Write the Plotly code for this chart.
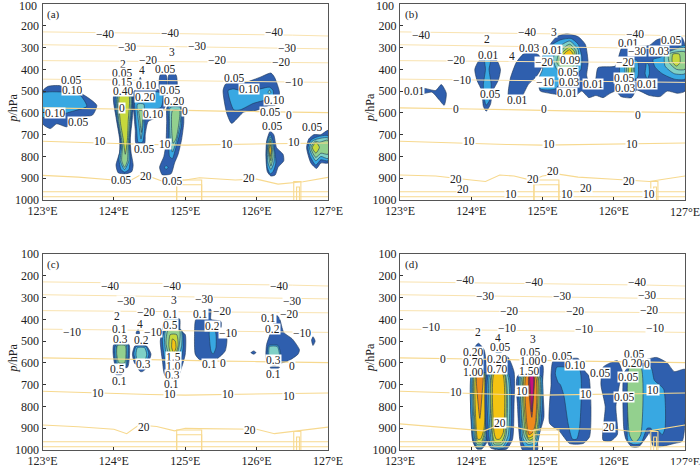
import plotly.graph_objects as go

# fill colours of the contour levels, weakest first
LEVEL_COLORS = ["#2f5fae", "#38a8e2", "#7fd0c6", "#93d08e", "#c6d93c", "#f3c313", "#ee8a1c", "#dc3a1e", "#c8107e"]

# temperature lines, same in all panels
ISO_LON = [123, 123.5, 124, 124.5, 125, 125.5, 126, 126.5, 127]
T_M40 = [228, 230, 232, 234, 235, 237, 240, 243, 247]
T_M30 = [287, 289, 291, 294, 296, 298, 300, 303, 306]
T_M20 = [360, 361, 362, 363, 364, 365, 366, 368, 370]
T_M10 = [445, 447, 449, 450, 451, 453, 455, 457, 460]
T_0 = [577, 578, 582, 585, 590, 592, 594, 596, 599]
T_10 = [730, 735, 742, 745, 748, 745, 742, 740, 738]
LOW_1 = [962, 962, 962, 962, 962, 962, 962, 962, 962]
LOW_2 = [985, 985, 985, 985, 985, 985, 985, 985, 985]

# the 20 degree line differs a bit per panel
A_T20 = [(123, 887), (123.5, 895), (124, 908), (124.2, 916), (124.4, 880), (124.7, 916), (125, 908), (125.2, 898), (125.7, 908), (126, 904), (126.3, 927), (126.5, 920), (126.65, 916), (127, 896)]
B_T20 = [(123, 885), (123.5, 890), (124, 908), (124.2, 915), (124.4, 885), (124.6, 890), (124.85, 910), (125, 890), (125.2, 880), (125.5, 895), (126, 905), (126.5, 915), (126.7, 905), (127, 890)]
C_T20 = [(123, 885), (123.5, 893), (124, 905), (124.18, 925), (124.35, 885), (124.6, 892), (124.85, 912), (125, 900), (125.2, 902), (125.6, 905), (126, 905), (126.25, 925), (126.5, 915), (127, 895)]
D_T20 = [(123, 880), (123.5, 893), (124, 905), (124.18, 912), (124.35, 890), (124.6, 895), (124.85, 912), (125, 900), (125.2, 902), (125.6, 905), (126, 905), (126.25, 915), (126.5, 912), (127, 885)]

# terrain outlines (lon, p)
TERRAIN_1 = [(124.88, 1000), (124.88, 930), (125.23, 930), (125.23, 1000)]
TERRAIN_2 = [(124.88, 1000), (124.88, 908), (125.23, 908), (125.23, 1000)]
TERRAIN_3 = [(126.52, 1000), (126.52, 915), (126.62, 915), (126.62, 1000)]
TERRAIN_4 = [(126.56, 1000), (126.56, 940), (126.6, 940), (126.6, 1000)]

# filled contour regions: (level index, outline in lon / hPa)
A_FILLS = [
    (0, [(123, 500), (123.08, 478), (123.25, 475), (123.55, 512), (123.76, 565), (123.7, 610), (123.53, 620), (123.34, 664), (123.2, 650), (123.11, 672), (123, 650)]),
    (1, [(123, 510), (123.3, 505), (123.53, 520), (123.62, 570), (123.45, 590), (123, 620)]),
    (0, [(124, 520), (124.27, 520), (124.26, 620), (124.23, 720), (124.24, 780), (124.27, 840), (124.25, 870), (124.16, 880), (124.06, 875), (124.03, 840), (124.08, 780), (124.08, 720), (124.03, 620)]),
    (1, [(124.03, 520), (124.25, 520), (124.24, 640), (124.22, 740), (124.23, 810), (124.21, 860), (124.15, 872), (124.1, 860), (124.07, 810), (124.1, 740), (124.05, 640)]),
    (2, [(124.05, 520), (124.24, 520), (124.23, 640), (124.21, 750), (124.21, 820), (124.15, 860), (124.09, 820), (124.11, 750), (124.06, 640)]),
    (3, [(124.06, 520), (124.23, 520), (124.22, 640), (124.2, 750), (124.19, 820), (124.15, 850), (124.11, 820), (124.12, 750), (124.07, 640)]),
    (4, [(124.08, 520), (124.21, 520), (124.2, 640), (124.19, 720), (124.16, 790), (124.13, 720), (124.09, 640)]),
    (0, [(124.28, 500), (124.7, 500), (124.72, 570), (124.6, 620), (124.48, 640), (124.44, 700), (124.43, 740), (124.31, 740), (124.3, 680), (124.28, 600)]),
    (1, [(124.3, 510), (124.68, 510), (124.66, 575), (124.45, 590), (124.43, 680), (124.4, 735), (124.34, 735), (124.32, 680), (124.3, 600)]),
    (2, [(124.33, 560), (124.42, 560), (124.41, 650), (124.38, 720), (124.35, 650)]),
    (3, [(124.35, 590), (124.4, 590), (124.385, 690), (124.36, 620)]),
    (0, [(124.35, 460), (124.37, 437), (124.39, 460)]),
    (0, [(124.64, 490), (124.65, 425), (124.73, 425), (124.74, 490)]),
    (0, [(124.77, 490), (124.77, 425), (124.87, 425), (124.88, 490)]),
    (0, [(124.75, 570), (124.96, 570), (124.98, 640), (124.95, 720), (124.9, 790), (124.85, 830), (124.8, 880), (124.68, 885), (124.64, 850), (124.7, 800), (124.73, 740), (124.74, 640)]),
    (1, [(124.77, 570), (124.93, 570), (124.95, 650), (124.92, 700), (124.86, 770), (124.82, 810), (124.78, 800), (124.77, 740), (124.77, 640)]),
    (1, [(124.71, 850), (124.73, 842), (124.76, 850), (124.73, 860)]),
    (2, [(124.79, 575), (124.93, 575), (124.93, 650), (124.88, 725), (124.82, 780), (124.79, 720), (124.78, 640)]),
    (3, [(124.82, 590), (124.92, 590), (124.91, 650), (124.87, 720), (124.83, 740), (124.81, 680)]),
    (0, [(125.53, 497), (125.57, 466), (125.85, 459), (126.05, 436), (126.2, 417), (126.25, 436), (126.32, 505), (126.3, 543), (126, 588), (125.82, 596), (125.65, 648), (125.58, 600)]),
    (1, [(125.6, 497), (125.68, 490), (125.85, 505), (126.18, 482), (126.23, 497), (126.23, 527), (125.95, 557), (125.77, 586), (125.68, 586)]),
    (2, [(126.16, 505), (126.18, 495), (126.2, 505), (126.18, 513)]),
    (0, [(126.12, 558), (126.26, 558), (126.26, 565), (126.12, 565)]),
    (0, [(126.19, 684), (126.24, 700), (126.28, 760), (126.37, 790), (126.38, 820), (126.3, 850), (126.26, 885), (126.2, 890), (126.15, 870), (126.13, 800), (126.14, 730)]),
    (1, [(126.19, 700), (126.23, 730), (126.26, 790), (126.27, 830), (126.23, 870), (126.19, 880), (126.15, 850), (126.14, 790), (126.15, 730)]),
    (2, [(126.19, 710), (126.22, 740), (126.25, 790), (126.24, 830), (126.2, 860), (126.16, 830), (126.15, 780), (126.16, 740)]),
    (3, [(126.19, 720), (126.22, 760), (126.23, 800), (126.2, 845), (126.17, 800), (126.16, 760)]),
    (4, [(126.19, 730), (126.21, 770), (126.2, 820), (126.18, 790), (126.17, 760)]),
    (5, [(126.19, 745), (126.205, 770), (126.19, 800), (126.175, 770)]),
    (0, [(126.7, 760), (126.73, 720), (126.8, 700), (126.9, 700), (127, 680), (127, 830), (126.9, 830), (126.84, 855), (126.76, 830)]),
    (1, [(126.72, 760), (126.76, 725), (126.85, 710), (127, 705), (127, 820), (126.9, 815), (126.83, 840), (126.75, 800)]),
    (2, [(126.74, 760), (126.78, 730), (126.85, 720), (127, 715), (127, 810), (126.9, 800), (126.83, 820), (126.77, 790)]),
    (3, [(126.76, 758), (126.82, 730), (126.88, 735), (127, 725), (127, 790), (126.9, 785), (126.83, 805), (126.78, 780)]),
    (4, [(126.78, 760), (126.83, 735), (126.88, 758), (126.83, 785)]),
]
B_FILLS = [
    (0, [(123.33, 488), (123.5, 497), (123.58, 470), (123.65, 510), (123.62, 565), (123.55, 540), (123.45, 505), (123.33, 510)]),
    (0, [(124.12, 356), (124.35, 356), (124.41, 400), (124.38, 450), (124.3, 500), (124.27, 560), (124.21, 592), (124.17, 570), (124.15, 500), (124.08, 450), (124.05, 400)]),
    (1, [(124.19, 356), (124.27, 356), (124.25, 400), (124.28, 470), (124.26, 540), (124.21, 565), (124.18, 530), (124.17, 470), (124.2, 400)]),
    (0, [(124.52, 500), (124.55, 440), (124.63, 370), (124.73, 330), (124.85, 320), (124.95, 335), (125, 380), (124.92, 430), (124.8, 470), (124.7, 530), (124.58, 545), (124.52, 530)]),
    (0, [(124.95, 480), (125, 420), (125.05, 350), (125.08, 300), (125.2, 250), (125.34, 237), (125.5, 250), (125.6, 285), (125.64, 370), (125.62, 430), (125.66, 460), (125.74, 450), (125.78, 392), (126.02, 385), (126.07, 340), (126.12, 298), (126.28, 295), (126.5, 290), (126.6, 265), (126.85, 245), (126.95, 250), (127, 290), (127, 500), (126.9, 510), (126.75, 500), (126.65, 525), (126.5, 520), (126.4, 505), (126.32, 495), (126.25, 530), (126.1, 525), (126.03, 500), (125.95, 510), (125.85, 530), (125.75, 520), (125.65, 530), (125.55, 500), (125.45, 525), (125.3, 520), (125.1, 510), (124.97, 500)]),
    (1, [(125, 340), (125.12, 290), (125.25, 265), (125.4, 258), (125.5, 285), (125.55, 340), (125.54, 400), (125.45, 430), (125.3, 440), (125.18, 490), (124.97, 490), (124.95, 440), (125, 400)]),
    (2, [(125.22, 300), (125.38, 270), (125.5, 310), (125.5, 370), (125.45, 400), (125.3, 420), (125.2, 400), (125.15, 350)]),
    (3, [(125.24, 320), (125.38, 285), (125.47, 315), (125.48, 360), (125.42, 390), (125.3, 400), (125.2, 370)]),
    (4, [(125.26, 330), (125.38, 298), (125.45, 320), (125.45, 355), (125.3, 375), (125.24, 360)]),
    (5, [(125.3, 330), (125.38, 310), (125.43, 330), (125.42, 350), (125.3, 350)]),
    (1, [(126.1, 360), (126.33, 360), (126.33, 440), (126.1, 450)]),
    (2, [(126.17, 365), (126.28, 365), (126.28, 440), (126.2, 450), (126.16, 420)]),
    (3, [(126.19, 375), (126.27, 375), (126.26, 430), (126.2, 435), (126.18, 410)]),
    (4, [(126.21, 385), (126.25, 385), (126.24, 420), (126.21, 420)]),
    (1, [(126.46, 370), (126.49, 380), (126.5, 420), (126.47, 445), (126.44, 420), (126.45, 390)]),
    (1, [(126.55, 355), (126.65, 345), (127, 290), (127, 445), (126.85, 445), (126.68, 420), (126.58, 390)]),
    (2, [(126.72, 330), (127, 300), (127, 420), (126.85, 420), (126.72, 385)]),
    (3, [(126.77, 330), (127, 320), (127, 400), (126.88, 400), (126.78, 370)]),
    (4, [(126.83, 330), (126.92, 330), (126.93, 370), (126.88, 385), (126.82, 365)]),
]
C_FILLS = [
    (0, [(124, 515), (124.21, 515), (124.22, 560), (124.19, 620), (124.03, 620), (123.99, 560)]),
    (1, [(124.03, 515), (124.19, 515), (124.2, 560), (124.17, 615), (124.05, 615), (124.01, 560)]),
    (2, [(124.05, 515), (124.17, 515), (124.18, 560), (124.16, 610), (124.06, 610), (124.03, 560)]),
    (3, [(124.05, 520), (124.16, 520), (124.17, 560), (124.15, 600), (124.07, 600), (124.04, 560)]),
    (0, [(124.02, 650), (124.12, 650), (124.1, 655), (124.04, 655)]),
    (0, [(124.3, 520), (124.45, 520), (124.52, 560), (124.47, 600), (124.3, 605), (124.26, 560)]),
    (1, [(124.31, 525), (124.45, 525), (124.49, 560), (124.45, 595), (124.32, 595), (124.28, 560)]),
    (2, [(124.33, 530), (124.43, 530), (124.46, 560), (124.43, 590), (124.33, 590), (124.31, 560)]),
    (0, [(124.34, 625), (124.45, 625), (124.4, 640), (124.37, 640)]),
    (0, [(124.31, 465), (124.34, 445), (124.36, 465)]),
    (0, [(124.72, 398), (124.92, 398), (124.93, 450), (125, 470), (125, 560), (124.95, 620), (124.9, 660), (124.72, 660), (124.68, 590), (124.65, 500), (124.68, 450)]),
    (1, [(124.72, 450), (124.95, 450), (124.97, 530), (124.93, 600), (124.87, 640), (124.75, 640), (124.7, 560), (124.68, 490)]),
    (2, [(124.73, 450), (124.94, 450), (124.95, 520), (124.9, 570), (124.75, 570), (124.71, 500)]),
    (3, [(124.76, 450), (124.92, 450), (124.92, 510), (124.88, 560), (124.78, 565), (124.73, 510)]),
    (4, [(124.79, 470), (124.88, 470), (124.9, 520), (124.86, 560), (124.8, 560), (124.77, 520)]),
    (5, [(124.82, 490), (124.86, 500), (124.87, 530), (124.84, 555), (124.81, 530)]),
    (1, [(124.72, 400), (124.9, 400), (124.9, 405), (124.72, 405)]),
    (0, [(125.15, 400), (125.3, 400), (125.31, 355), (125.36, 355), (125.36, 400), (125.5, 410), (125.5, 480), (125.58, 485), (125.56, 545), (125.45, 580), (125.3, 590), (125.2, 585), (125.14, 560), (125.13, 470)]),
    (1, [(125.34, 455), (125.42, 455), (125.43, 530), (125.39, 560), (125.36, 545), (125.34, 490)]),
    (0, [(126.14, 515), (126.22, 440), (126.28, 382), (126.32, 395), (126.38, 460), (126.5, 490), (126.6, 540), (126.58, 560), (126.45, 590), (126.35, 600), (126.25, 610), (126.15, 600), (126.13, 560)]),
    (1, [(126.17, 520), (126.3, 520), (126.34, 570), (126.3, 605), (126.18, 605), (126.15, 560)]),
    (2, [(126.18, 525), (126.29, 525), (126.32, 565), (126.28, 600), (126.19, 600), (126.17, 560)]),
    (0, [(126.19, 620), (126.32, 620), (126.3, 627), (126.2, 627)]),
    (0, [(125.92, 553), (125.96, 545), (125.99, 553), (125.96, 560)]),
    (0, [(126.77, 495), (126.79, 480), (126.82, 500), (126.79, 520)]),
]
D_FILLS = [
    (0, [(124, 640), (124.03, 540), (124.1, 510), (124.18, 540), (124.22, 640), (124.24, 950), (124.15, 995), (124.08, 995), (124.02, 960), (123.99, 800)]),
    (1, [(124.01, 650), (124.22, 650), (124.22, 940), (124.15, 990), (124.08, 990), (124.03, 950)]),
    (2, [(124.03, 650), (124.2, 650), (124.21, 930), (124.14, 985), (124.08, 985), (124.04, 930)]),
    (3, [(124.04, 650), (124.19, 650), (124.2, 920), (124.14, 975), (124.08, 975), (124.05, 920)]),
    (4, [(124.05, 650), (124.18, 650), (124.19, 910), (124.14, 965), (124.09, 965), (124.06, 910)]),
    (5, [(124.07, 650), (124.17, 650), (124.18, 900), (124.13, 950), (124.09, 950), (124.07, 900)]),
    (6, [(124.08, 650), (124.16, 650), (124.15, 750), (124.12, 855), (124.1, 800)]),
    (0, [(124.22, 650), (124.5, 570), (124.6, 640), (124.6, 800), (124.58, 950), (124.5, 995), (124.38, 1000), (124.27, 990), (124.22, 950)]),
    (1, [(124.25, 650), (124.52, 650), (124.56, 800), (124.54, 950), (124.46, 990), (124.38, 995), (124.28, 985), (124.25, 940)]),
    (2, [(124.27, 650), (124.5, 650), (124.52, 930), (124.44, 985), (124.3, 980), (124.27, 930)]),
    (3, [(124.29, 650), (124.47, 650), (124.49, 930), (124.43, 975), (124.32, 975), (124.29, 930)]),
    (4, [(124.3, 650), (124.46, 650), (124.47, 930), (124.42, 965), (124.33, 965), (124.3, 930)]),
    (5, [(124.32, 650), (124.44, 650), (124.45, 920), (124.4, 950), (124.35, 950), (124.32, 920)]),
    (1, [(124.33, 545), (124.44, 545), (124.42, 552), (124.35, 552)]),
    (0, [(124.65, 660), (125, 610), (125, 700), (125.02, 850), (124.95, 930), (124.93, 960), (124.93, 1000), (124.72, 1000), (124.68, 950), (124.65, 800)]),
    (1, [(124.68, 660), (124.98, 660), (124.97, 900), (124.92, 975), (124.85, 990), (124.75, 985), (124.7, 940), (124.68, 800)]),
    (2, [(124.7, 660), (124.96, 660), (124.95, 900), (124.9, 965), (124.8, 975), (124.73, 950), (124.7, 800)]),
    (3, [(124.72, 660), (124.95, 660), (124.94, 900), (124.89, 955), (124.8, 965), (124.74, 930)]),
    (4, [(124.74, 660), (124.93, 660), (124.93, 890), (124.88, 945), (124.81, 955), (124.76, 920)]),
    (5, [(124.75, 660), (124.92, 660), (124.91, 880), (124.87, 935), (124.8, 945), (124.77, 900)]),
    (6, [(124.77, 660), (124.9, 660), (124.9, 880), (124.86, 920), (124.81, 930), (124.78, 880)]),
    (7, [(124.81, 660), (124.88, 660), (124.87, 770), (124.85, 850), (124.82, 770)]),
    (8, [(124.825, 660), (124.87, 660), (124.85, 825), (124.835, 750)]),
    (0, [(125.12, 650), (125.15, 590), (125.3, 585), (125.5, 580), (125.6, 640), (125.65, 660), (125.68, 800), (125.66, 940), (125.57, 970), (125.38, 970), (125.24, 915), (125.1, 878), (125.1, 780), (125.12, 700)]),
    (1, [(125.2, 620), (125.35, 620), (125.52, 630), (125.52, 900), (125.48, 950), (125.42, 950), (125.36, 880), (125.3, 750), (125.25, 700), (125.22, 690), (125.18, 650)]),
    (0, [(125.85, 620), (125.95, 600), (126.05, 590), (126.12, 640), (126.08, 700), (126.03, 800), (126.05, 930), (125.95, 960), (125.85, 955), (125.88, 800), (125.82, 700)]),
    (0, [(126.14, 650), (126.2, 620), (126.28, 600), (126.4, 590), (126.6, 575), (126.75, 600), (126.85, 640), (127, 630), (127, 880), (126.96, 960), (126.85, 970), (126.65, 985), (126.55, 980), (126.5, 920), (126.48, 930), (126.35, 985), (126.25, 985), (126.17, 950), (126.14, 900)]),
    (1, [(126.25, 620), (126.52, 620), (126.57, 680), (126.7, 720), (126.72, 900), (126.68, 930), (126.62, 910), (126.55, 915), (126.52, 900), (126.47, 900), (126.38, 970), (126.28, 975), (126.2, 960), (126.2, 800), (126.2, 700)]),
    (3, [(126.22, 620), (126.38, 620), (126.38, 930), (126.32, 960), (126.27, 960), (126.22, 930)]),
]

# contour and temperature labels
A_LABEL_LON = [123.88, 124.78, 126.25, 124.18, 125.16, 126.42, 124.82, 124.48, 125.44, 126.34, 124.13, 124.12, 124.39, 124.72, 125.68, 126.53, 124.12, 123.4, 123.42, 124.45, 124.79, 125.9, 124.13, 124.44, 124.84, 126.25, 124.12, 123.18, 124.55, 125.0, 126.19, 126.45, 123.5, 126.21, 126.77, 123.81, 124.72, 125.59, 126.53, 124.42, 124.1, 124.45, 124.81, 125.9]
A_LABEL_P = [237, 233, 230, 298, 295, 303, 321, 356, 356, 367, 375, 416, 405, 400, 439, 458, 458, 451, 493, 474, 497, 489, 501, 527, 547, 542, 576, 600, 603, 591, 596, 611, 640, 661, 667, 731, 744, 741, 733, 767, 908, 890, 913, 901]
A_LABEL_TEXT = ["−40", "−40", "−40", "−30", "−30", "−30", "3", "−20", "−20", "−20", "2", "0.05", "4", "0.05", "0.05", "−10", "0.15", "0.05", "0.10", "0.10", "0.05", "0.10", "0.40", "0.20", "0.20", "0.10", "0", "0.10", "0.10", "0", "0.05", "0", "0.05", "0.05", "0.05", "10", "10", "10", "10", "0.05", "0.05", "20", "0.05", "20"]

B_LABEL_LON = [123.29, 124.78, 125.16, 126.3, 124.22, 124.81, 126.2, 126.81, 125.14, 126.33, 126.64, 124.24, 124.57, 123.79, 125.02, 126.16, 125.38, 125.36, 123.87, 125.03, 125.37, 126.15, 125.71, 126.47, 126.16, 123.19, 125.34, 124.26, 124.64, 123.79, 125.02, 126.34, 123.97, 125.09, 126.25, 125.15, 123.78, 124.86, 126.21, 123.88, 125.61, 124.56, 125.34, 126.49]
B_LABEL_P = [242, 230, 227, 236, 263, 300, 278, 265, 310, 314, 318, 332, 341, 356, 368, 368, 356, 413, 451, 457, 457, 440, 466, 466, 487, 500, 507, 515, 541, 583, 582, 609, 730, 744, 744, 866, 902, 905, 915, 948, 947, 974, 974, 974]
B_LABEL_TEXT = ["−40", "−40", "3", "−40", "2", "0.03", "0.01", "0.05", "0.01", "−30", "0.03", "0.01", "4", "−20", "−20", "−20", "0.09", "0.05", "−10", "−10", "0.03", "0.05", "0.01", "0.01", "0.03", "0.01", "0.01", "0.05", "0.01", "0", "0", "0", "10", "10", "10", "20", "20", "20", "20", "20", "20", "10", "10", "10"]

C_LABEL_LON = [123.95, 124.81, 126.32, 124.17, 125.26, 126.5, 124.84, 124.04, 124.45, 124.79, 125.21, 125.51, 126.46, 126.16, 124.37, 124.79, 125.38, 126.22, 124.08, 123.41, 124.55, 125.6, 126.63, 124.09, 124.39, 124.83, 126.24, 124.83, 124.41, 125.34, 125.53, 126.49, 124.05, 124.82, 124.08, 126.24, 124.81, 123.78, 124.78, 125.6, 126.46, 124.42, 125.91]
C_LABEL_P = [248, 245, 248, 317, 307, 317, 310, 385, 365, 375, 375, 362, 375, 393, 423, 425, 431, 443, 443, 458, 458, 463, 463, 489, 497, 573, 588, 616, 606, 605, 599, 614, 628, 657, 683, 652, 699, 739, 744, 744, 750, 893, 908]
C_LABEL_TEXT = ["−40", "−40", "−40", "−30", "−30", "−30", "3", "2", "−20", "0.1", "0.1", "−20", "−20", "0.1", "4", "0.5", "0.2", "0.2", "0.1", "−10", "−10", "−10", "−10", "0.3", "0.2", "1.5", "0.3", "1.0", "0.3", "0.1", "0", "0", "0.5", "0.3", "0.1", "0.1", "0.1", "10", "10", "10", "10", "20", "20"]

D_LABEL_LON = [123.91, 124.88, 126.32, 124.19, 125.27, 126.47, 124.53, 125.45, 126.49, 123.43, 124.5, 125.58, 126.58, 124.1, 124.37, 124.87, 124.4, 124.03, 124.82, 125.28, 126.29, 123.61, 124.36, 124.82, 125.02, 126.25, 126.46, 124.03, 125.45, 124.36, 124.81, 124.03, 125.8, 126.2, 123.79, 124.71, 125.61, 126.55, 126.15, 124.4, 125.94]
D_LABEL_P = [219, 230, 230, 294, 294, 286, 364, 361, 355, 436, 442, 443, 439, 458, 484, 492, 527, 550, 550, 568, 558, 580, 580, 593, 583, 599, 603, 596, 611, 629, 635, 641, 645, 664, 735, 728, 744, 725, 756, 878, 893]
D_LABEL_TEXT = ["−40", "−40", "−40", "−30", "−30", "−30", "−20", "−20", "−20", "−10", "−10", "−10", "−10", "2", "4", "3", "0.05", "0.20", "0.05", "0.05", "0.05", "0", "0.20", "1.00", "0", "0.20", "0", "0.70", "0.10", "0.70", "1.50", "1.00", "0.05", "0.05", "10", "10", "10", "10", "0.05", "20", "20"]

PANELS = [
    ("(a)", "x", "y", [42.5, 328], [4, 200], A_FILLS, A_T20, A_LABEL_LON, A_LABEL_P, A_LABEL_TEXT),
    ("(b)", "x2", "y2", [400, 685], [4, 200], B_FILLS, B_T20, B_LABEL_LON, B_LABEL_P, B_LABEL_TEXT),
    ("(c)", "x3", "y3", [42.5, 328], [254, 450], C_FILLS, C_T20, C_LABEL_LON, C_LABEL_P, C_LABEL_TEXT),
    ("(d)", "x4", "y4", [400, 685], [254, 450], D_FILLS, D_T20, D_LABEL_LON, D_LABEL_P, D_LABEL_TEXT),
]

W, H = 700, 465
FONT = "Liberation Serif"
ISO_COLOR = "#f7d98f"
ISO_COLOR_UPPER = "#f9e3b0"
X_TICKS = [123, 124, 125, 126, 127]
X_TICK_TEXT = ["123°E", "124°E", "125°E", "126°E", "127°E"]
Y_TICKS = list(range(100, 1001, 100))

fig = go.Figure()
annotations = []
layout_axes = {}

for name, xa, ya, px_x, px_y, fills, t20, lab_lon, lab_p, lab_text in PANELS:
    for level, outline in fills:
        pts = outline + [outline[0]]
        fig.add_trace(go.Scatter(
            x=[p[0] for p in pts], y=[p[1] for p in pts], xaxis=xa, yaxis=ya,
            mode="lines", fill="toself", fillcolor=LEVEL_COLORS[level],
            line=dict(color="#1c3558", width=0.6, shape="spline", smoothing=0.6),
            hoverinfo="skip", showlegend=False))

    # temperature lines go on top of the fills
    for vals in [T_M40, T_M30, T_M20, T_M10]:
        fig.add_trace(go.Scatter(
            x=ISO_LON, y=vals, xaxis=xa, yaxis=ya, mode="lines",
            line=dict(color=ISO_COLOR_UPPER, width=1), hoverinfo="skip", showlegend=False))
    for vals in [T_0, T_10, LOW_1, LOW_2]:
        fig.add_trace(go.Scatter(
            x=ISO_LON, y=vals, xaxis=xa, yaxis=ya, mode="lines",
            line=dict(color=ISO_COLOR, width=1.1), hoverinfo="skip", showlegend=False))
    for pts in [t20, TERRAIN_1, TERRAIN_2, TERRAIN_3, TERRAIN_4]:
        fig.add_trace(go.Scatter(
            x=[p[0] for p in pts], y=[p[1] for p in pts], xaxis=xa, yaxis=ya, mode="lines",
            line=dict(color=ISO_COLOR, width=1.1), hoverinfo="skip", showlegend=False))

    for lon, p, txt in zip(lab_lon, lab_p, lab_text):
        annotations.append(dict(x=lon, y=p, xref=xa, yref=ya, text=txt, showarrow=False,
                                bgcolor="white", borderpad=0, height=10,
                                font=dict(family=FONT, size=11.5, color="#222")))
    annotations.append(dict(x=123.16, y=150, xref=xa, yref=ya, text=name, showarrow=False,
                            font=dict(family=FONT, size=11, color="#222")))
    # y axis title placed by hand in paper units
    annotations.append(dict(x=(px_x[0] - 30) / W, y=1 - (px_y[0] + 104) / H, xref="paper", yref="paper",
                            xanchor="center", yanchor="middle",
                            text="<i>p</i>/hPa", textangle=-90, showarrow=False,
                            font=dict(family=FONT, size=12, color="#222")))

    # plotly drops tick labels that touch the page edge, so these two are put back
    if px_y[0] < 10:
        annotations.append(dict(x=(px_x[0] - 4) / W, y=1 - 5.5 / H, xref="paper", yref="paper",
                                xanchor="right", yanchor="middle", text=str(Y_TICKS[0]), showarrow=False,
                                font=dict(family=FONT, size=12, color="#222")))
    if px_x[1] > 600:
        annotations.append(dict(x=px_x[1] / W, y=1 - (px_y[1] + 11.5) / H, xref="paper", yref="paper",
                                xanchor="center", yanchor="middle", text=X_TICK_TEXT[-1], showarrow=False,
                                font=dict(family=FONT, size=12, color="#222")))

    # axis positions come from the picture's pixel frame
    suffix = xa[1:]
    layout_axes["xaxis" + suffix] = dict(
        domain=[px_x[0] / W, px_x[1] / W], range=[123, 127], anchor=ya, automargin=False,
        tickvals=X_TICKS, ticktext=X_TICK_TEXT, ticks="inside", ticklen=3, tickcolor="#333",
        showgrid=False, zeroline=False, showline=True, linecolor="#555", linewidth=1, mirror=True,
        tickfont=dict(family=FONT, size=12, color="#222"))
    layout_axes["yaxis" + suffix] = dict(
        domain=[1 - px_y[1] / H, 1 - px_y[0] / H], range=[1000, 100], anchor=xa, automargin=False,
        tickvals=Y_TICKS, ticks="inside", ticklen=3, tickcolor="#333",
        showgrid=False, zeroline=False, showline=True, linecolor="#555", linewidth=1, mirror=True,
        tickfont=dict(family=FONT, size=12, color="#222"))

fig.update_layout(
    width=W, height=H, margin=dict(l=0, r=0, t=0, b=0),
    paper_bgcolor="white", plot_bgcolor="white", showlegend=False,
    annotations=annotations, **layout_axes)

# the page's default body margin would shift the figure by 8px
fig.write_html("out.html", config={"displayModeBar": False},
               post_script="document.body.style.margin='0';")
